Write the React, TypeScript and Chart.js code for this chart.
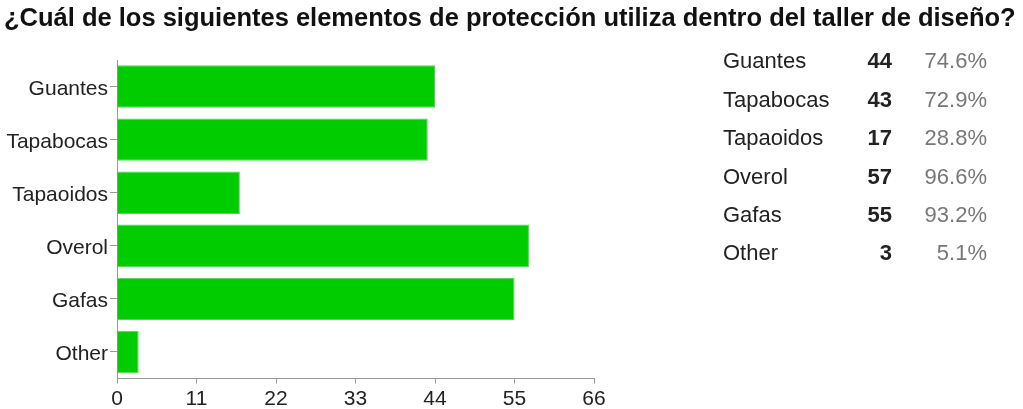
import React, { useEffect, useRef } from "react";
import { Chart, registerables } from "chart.js";

Chart.register(...registerables);

const TITLE = "¿Cuál de los siguientes elementos de protección utiliza dentro del taller de diseño?";
const categories = ["Guantes", "Tapabocas", "Tapaoidos", "Overol", "Gafas", "Other"];
const tableNames = ["Guantes", "Tapabocas", "Tapaoidos", "Overol", "Gafas", "Other"];
const counts = [44, 43, 17, 57, 55, 3];
const percents = ["74.6%", "72.9%", "28.8%", "96.6%", "93.2%", "5.1%"];
const xTicks = [0, 11, 22, 33, 44, 55, 66];

const FONT = "'Liberation Sans', Arial, sans-serif";

export default function App() {
  const ref = useRef<HTMLCanvasElement | null>(null);

  useEffect(() => {
    document.body.style.margin = "0";
    const canvas = ref.current;
    if (!canvas) return;
    const chart = new Chart(canvas, {
      type: "bar",
      data: {
        labels: categories,
        datasets: [
          {
            data: counts,
            backgroundColor: "#00cc00",
            borderColor: "#4ed84e",
            borderWidth: 1,
            barPercentage: 0.8,
            categoryPercentage: 1,
          },
        ],
      },
      options: {
        indexAxis: "y",
        animation: false,
        responsive: false,
        devicePixelRatio: 1,
        layout: { padding: { top: 60, right: 26, left: 0, bottom: 0 } },
        plugins: {
          legend: { display: false },
          tooltip: { enabled: false },
          title: { display: false },
        },
        scales: {
          x: {
            type: "linear",
            min: 0,
            max: 66,
            afterBuildTicks: (axis: any) => {
              axis.ticks = xTicks.map((v) => ({ value: v }));
            },
            afterFit: (axis: any) => {
              axis.height = 30.5;
            },
            grid: {
              display: true,
              drawOnChartArea: false,
              drawTicks: true,
              tickLength: 5,
              color: "#999999",
            },
            border: { display: true, color: "#999999", width: 1 },
            ticks: {
              padding: 3,
              color: "#222222",
              font: { family: FONT, size: 21 },
              maxRotation: 0,
              autoSkip: false,
            },
          },
          y: {
            type: "category",
            afterFit: (axis: any) => {
              axis.width = 117;
            },
            grid: {
              display: true,
              offset: false,
              drawOnChartArea: false,
              drawTicks: true,
              tickLength: 7,
              color: "#999999",
            },
            border: { display: true, color: "#999999", width: 1 },
            ticks: {
              padding: 2,
              color: "#222222",
              font: { family: FONT, size: 21, lineHeight: "5px" },
              autoSkip: false,
              // two-line label with a tiny line height nudges the text slightly below the tick
              callback: function (this: any, value: any) {
                return ["", this.getLabelForValue(value)];
              },
            },
          },
        },
      },
    });
    return () => chart.destroy();
  }, []);

  const rowBaselines = [69, 107.4, 145.8, 184.2, 222.6, 261];

  return (
    <div style={{ position: "relative", width: 1023, height: 409, background: "#fff", overflow: "hidden" }}>
      <canvas ref={ref} width={620} height={409} style={{ position: "absolute", left: 0, top: 0 }} />
      <div
        style={{
          position: "absolute",
          left: 4,
          top: 5,
          fontFamily: FONT,
          fontWeight: "bold",
          fontSize: 25.5,
          lineHeight: "25.5px",
          color: "#111",
          whiteSpace: "nowrap",
        }}
      >
        {TITLE}
      </div>
      {tableNames.map((name, i) => (
        <div
          key={name}
          style={{
            position: "absolute",
            left: 0,
            top: rowBaselines[i] - 18.6,
            width: 1023,
            height: 22,
            fontFamily: FONT,
            fontSize: 22,
            lineHeight: "22px",
            whiteSpace: "nowrap",
          }}
        >
          <span style={{ position: "absolute", left: 723, color: "#222" }}>{name}</span>
          <span style={{ position: "absolute", right: 1023 - 892, color: "#222", fontWeight: "bold" }}>{counts[i]}</span>
          <span style={{ position: "absolute", right: 1023 - 987, color: "#777" }}>{percents[i]}</span>
        </div>
      ))}
    </div>
  );
}
